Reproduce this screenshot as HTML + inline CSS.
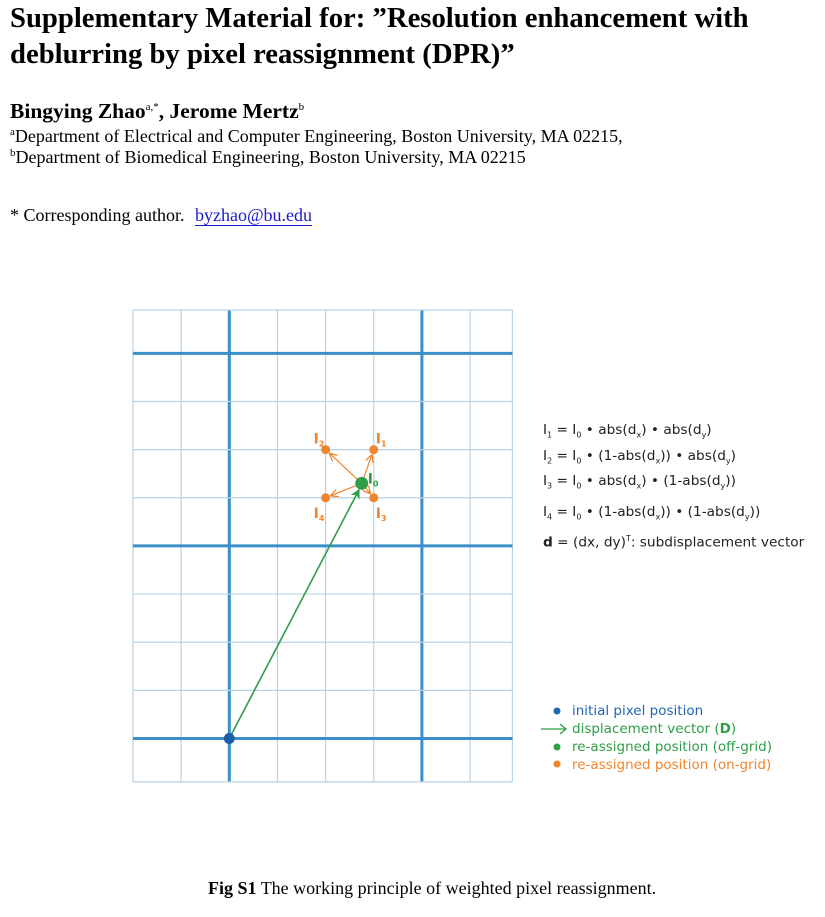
<!DOCTYPE html>
<html><head><meta charset="utf-8"><style>
body{margin:0;width:825px;height:917px;background:#fff;position:relative;font-family:"Liberation Serif",serif;overflow:hidden}
.abs{position:absolute;white-space:nowrap}
.t{font-weight:bold;font-size:28.7px;line-height:36px;left:10px;top:0px}
.sans{font-family:"DejaVu Sans","Liberation Sans",sans-serif}
</style></head><body>
<div class="abs t">Supplementary Material for: ”Resolution enhancement with<br>deblurring by pixel reassignment (DPR)”</div>
<div class="abs" style="left:10px;top:99px;font-size:21.5px;font-weight:bold">Bingying Zhao<sup style="font-size:11px;font-weight:normal">a,*</sup>, Jerome Mertz<sup style="font-size:11px;font-weight:normal">b</sup></div>
<div class="abs" style="left:10px;top:126px;font-size:18px"><sup style="font-size:11px">a</sup>Department of Electrical and Computer Engineering, Boston University, MA 02215,</div>
<div class="abs" style="left:10px;top:147px;font-size:18px"><sup style="font-size:11px">b</sup>Department of Biomedical Engineering, Boston University, MA 02215</div>
<div class="abs" style="left:10px;top:205px;font-size:18px">* Corresponding author. <span style="margin-left:6px;color:#1a1acc;border-bottom:1px solid #1a1acc">byzhao@bu.edu</span></div>

<svg class="abs" style="left:0;top:0" width="825" height="917">
<g id="grid"></g><g id="marks"></g>
<defs>
<marker id="ag" markerWidth="10" markerHeight="10" refX="8" refY="5" orient="auto" markerUnits="userSpaceOnUse"><path d="M0,0 L10,5 L0,10 L3,5z" fill="#2e9e48"/></marker>
<marker id="ao" markerWidth="8" markerHeight="8" refX="7" refY="4" orient="auto" markerUnits="userSpaceOnUse"><path d="M0,0 L8,4 L0,8" fill="none" stroke="#f0852d" stroke-width="1.3"/></marker>
</defs>
</svg>

<div class="abs sans" style="left:543px;top:420px;font-size:13.7px;line-height:21px;color:#222">
I<sub style="font-size:8px">1</sub> = I<sub style="font-size:8px">0</sub> • abs(d<sub style="font-size:8px">x</sub>) • abs(d<sub style="font-size:8px">y</sub>)<br>
I<sub style="font-size:8px">2</sub> = I<sub style="font-size:8px">0</sub> • (1-abs(d<sub style="font-size:8px">x</sub>)) • abs(d<sub style="font-size:8px">y</sub>)<br>
I<sub style="font-size:8px">3</sub> = I<sub style="font-size:8px">0</sub> • abs(d<sub style="font-size:8px">x</sub>) • (1-abs(d<sub style="font-size:8px">y</sub>))<br>
<span style="display:inline-block;margin-top:5px">I<sub style="font-size:8px">4</sub> = I<sub style="font-size:8px">0</sub> • (1-abs(d<sub style="font-size:8px">x</sub>)) • (1-abs(d<sub style="font-size:8px">y</sub>))</span><br>
<b>d</b> = (dx, dy)<sup style="font-size:8px">T</sup>: subdisplacement vector</div>

<div class="abs sans" style="left:572px;top:702px;font-size:13.5px;line-height:18px">
<div style="color:#2167b0">initial pixel position</div>
<div style="color:#2e9e48">displacement vector (<b>D</b>)</div>
<div style="color:#2e9e48">re-assigned position (off-grid)</div>
<div style="color:#f0852d">re-assigned position (on-grid)</div>
</div>

<div class="abs" style="left:208px;top:878px;font-size:18px"><b>Fig S1</b> The working principle of weighted pixel reassignment.</div>

<script>
const gridCols=[0,1,2,3,4,5,6,7,7.88];
const gridRows=[0,0.9,1.9,2.9,3.9,4.9,5.9,6.9,7.9,8.9,9.8];
const thickCols=[2,6];
const thickRows=[0.9,4.9,8.9];
const initialPt=[2,8.9];
const offGridPt=[4.75,3.6];
const onGridPts=[[4,2.9],[5,2.9],[4,3.9],[5,3.9]];
const onGridLabels=["I2","I1","I4","I3"];
const x0=133,y0=310,cell=48.15;
const X=c=>x0+c*cell, Y=r=>y0+r*cell;
const NS="http://www.w3.org/2000/svg";
function mk(t,a,p){const e=document.createElementNS(NS,t);for(const k in a)e.setAttribute(k,a[k]);p.appendChild(e);return e;}
const g=document.getElementById('grid'),m=document.getElementById('marks');
const W=X(gridCols[gridCols.length-1]),H=Y(gridRows[gridRows.length-1]);
gridCols.forEach(c=>{const th=thickCols.includes(c);const l=mk('line',{x1:X(c),x2:X(c),y1:y0,y2:H,stroke:th?'#3a8fc8':'#b7d3e6','stroke-width':th?3:1.2},g);

});
gridRows.forEach(r=>{const th=thickRows.includes(r);const l=mk('line',{x1:x0,x2:W,y1:Y(r),y2:Y(r),stroke:th?'#3a8fc8':'#b7d3e6','stroke-width':th?3:1.2},g);

});
const gx=X(offGridPt[0]),gy=Y(offGridPt[1]);
const dv=mk('line',{x1:X(initialPt[0]),y1:Y(initialPt[1]),x2:gx-3,y2:gy+7,stroke:'#2e9e48','stroke-width':1.6,'marker-end':'url(#ag)'},m);


onGridPts.forEach((p,i)=>{const px=X(p[0]),py=Y(p[1]);const dx=px-gx,dy=py-gy,L=Math.hypot(dx,dy);
const a=mk('line',{x1:gx,y1:gy,x2:px-dx/L*6,y2:py-dy/L*6,stroke:'#f0852d','stroke-width':1.2,'marker-end':'url(#ao)'},m);


const c=mk('circle',{cx:px,cy:py,r:4.5,fill:'#f0852d'},m);


const up=p[1]<3.5, left=p[0]<4.5;
const t=mk('text',{x:px+(left?-12:2),y:py+(up?-6:20),fill:'#f0852d','font-family':'DejaVu Sans,sans-serif','font-size':14,'font-weight':'bold'},m);
t.textContent='I';const s=mk('tspan',{'font-size':8,dy:3},t);s.textContent=onGridLabels[i].slice(1);

});
const gc=mk('circle',{cx:gx,cy:gy,r:6.5,fill:'#2e9e48'},m);


const t0=mk('text',{x:gx+6,y:gy,fill:'#2e9e48','font-family':'DejaVu Sans,sans-serif','font-size':14,'font-weight':'bold'},m);t0.textContent='I';
const s0=mk('tspan',{'font-size':8,dy:3},t0);s0.textContent='0';


const bc=mk('circle',{cx:X(initialPt[0]),cy:Y(initialPt[1]),r:5.5,fill:'#1f5fa8'},m);


const lm=[[557,711,'#2167b0'],[557,747,'#2e9e48'],[557,764,'#f0852d']];
lm.forEach(q=>{const c=mk('circle',{cx:q[0],cy:q[1],r:3.5,fill:q[2]},m);

});
const la=mk('path',{d:'M541,729 L566,729 M560,724 L566,729 L560,734',stroke:'#2e9e48','stroke-width':1.3,fill:'none'},m);


</script>
</body></html>
